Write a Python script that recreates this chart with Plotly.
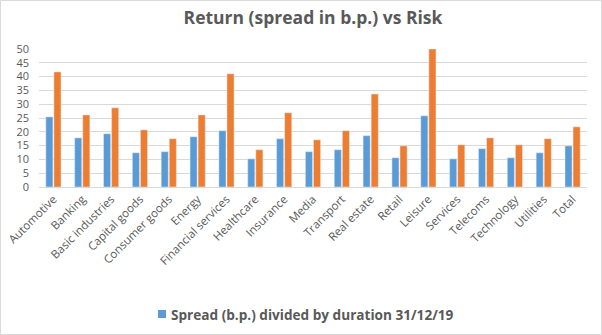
import plotly.graph_objects as go

categories = ["Automotive", "Banking", "Basic industries", "Capital goods", "Consumer goods",
              "Energy", "Financial services", "Healthcare", "Insurance", "Media", "Transport",
              "Real estate", "Retail", "Leisure", "Services", "Telecoms", "Technology",
              "Utilities", "Total"]
spread_by_duration = [25.4, 17.8, 19.3, 12.4, 12.8, 18.2, 20.4, 10.2, 17.5, 12.8, 13.5,
                      18.6, 10.6, 25.8, 10.2, 13.9, 10.6, 12.4, 14.9]
spread = [41.7, 26.1, 28.7, 20.7, 17.5, 26.1, 41.0, 13.5, 26.9, 17.1, 20.4,
          33.7, 14.9, 50.0, 15.3, 17.8, 15.3, 17.5, 21.8]
y_ticks = list(range(0, 51, 5))
legend_label = "Spread (b.p.) divided by duration 31/12/19"

W, H = 602, 335
L, R, T, B = 39, 15, 49, 148
pw = W - L - R
ph = H - T - B
font_family = "Open Sans, Liberation Sans, sans-serif"
grey = "#595959"
blue = "#5B9BD5"
orange = "#ED7D31"


def px_x(x):
    return (x - L) / pw


def px_y(y):
    return (H - B - y) / ph


fig = go.Figure()
fig.add_trace(go.Bar(x=categories, y=spread_by_duration, name=legend_label,
                     marker_color=blue, showlegend=False))
fig.add_trace(go.Bar(x=categories, y=spread, name="Spread (b.p.)",
                     marker_color=orange, showlegend=False))

# outer chart border
fig.add_shape(type="rect", xref="paper", yref="paper",
              x0=px_x(0.5), x1=px_x(W - 0.5), y0=px_y(H - 0.5), y1=px_y(0.5),
              line=dict(color="#D9D9D9", width=1), layer="below")

# legend: swatch + bold label
fig.add_shape(type="rect", xref="paper", yref="paper",
              x0=px_x(158), x1=px_x(166), y0=px_y(318), y1=px_y(310),
              line=dict(width=0), fillcolor=blue)
fig.add_annotation(text="<b>" + legend_label + "</b>", xref="paper", yref="paper",
                   x=px_x(169), y=px_y(314), xanchor="left", yanchor="middle",
                   showarrow=False, font=dict(family=font_family, size=13.6, color=grey))

fig.update_layout(
    width=W, height=H,
    margin=dict(l=L, r=R, t=T, b=B, autoexpand=False),
    paper_bgcolor="white", plot_bgcolor="white",
    barmode="group", bargap=0.44, bargroupgap=0.12,
    title=dict(text="<b>Return (spread in b.p.) vs Risk</b>", x=0.5, xref="paper",
               y=1 - 18 / H, yanchor="middle", xanchor="center",
               font=dict(family=font_family, size=17.5, color=grey)),
    font=dict(family=font_family, color=grey),
    showlegend=False,
)
fig.update_xaxes(tickangle=-45, tickfont=dict(size=11.5, color=grey), showgrid=False,
                 showline=True, linecolor="#D9D9D9", linewidth=1, ticks="",
                 automargin=False)
fig.update_yaxes(range=[0, 50], tickvals=y_ticks, tickfont=dict(size=11, color=grey),
                 showgrid=True, gridcolor="#D9D9D9", gridwidth=1, zeroline=False,
                 showline=False, ticks="", ticklabelstandoff=9, automargin=False)

fig.write_html("out.html")
